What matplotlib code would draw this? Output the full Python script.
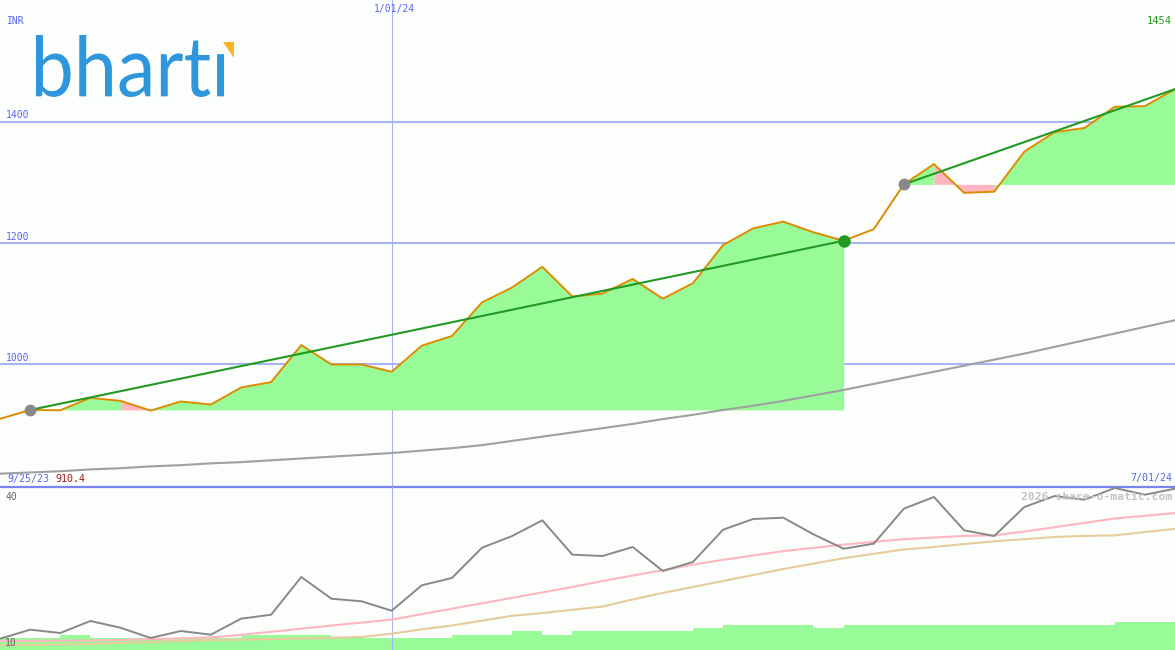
import matplotlib
matplotlib.use("Agg")
import matplotlib.pyplot as plt
from matplotlib.textpath import TextPath
from matplotlib.font_manager import FontProperties
from matplotlib.patches import PathPatch, Polygon
from matplotlib.transforms import Affine2D
from matplotlib.lines import Line2D

# ---------------- data (weekly, index 0 .. 39) ----------------
start_label = "9/25/23"
mid_label = "1/01/24"
end_label = "7/01/24"
mid_index = 13

price = [910.4, 925, 924.5, 945, 940, 924, 939, 934, 962, 971,
         1032, 1000, 1000, 988, 1031, 1047, 1102.5, 1127, 1161, 1112,
         1117, 1141, 1108.5, 1134, 1197, 1224.5, 1235.5, 1218, 1204, 1223,
         1297, 1330.5, 1283, 1285, 1351, 1383, 1390, 1425, 1426, 1454]

long_ma = [820, 822, 824, 827, 829, 832, 834, 837, 839, 842,
           845, 848, 851, 854, 858, 862, 867, 874, 881, 888,
           895, 902, 910, 917, 925, 932, 940, 949, 958, 968,
           978, 988, 998, 1008, 1018, 1029, 1040, 1051, 1062, 1073]

trend_start = [1, 30]
trend_end = [28, 39]

price_grid = [1000, 1200, 1400]

rel = [12.08, 13.74, 13.13, 15.34, 14.10, 12.21, 13.50, 12.82, 15.76, 16.50,
       23.44, 19.44, 18.96, 17.23, 21.91, 23.25, 28.83, 30.98, 33.87, 27.54,
       27.30, 28.96, 24.54, 26.20, 32.14, 34.11, 34.35, 31.29, 28.64, 29.56,
       36.01, 38.16, 32.03, 30.98, 36.32, 38.34, 37.66, 39.82, 38.58, 39.69]

rel_ma_fast = [11.66, 11.70, 11.72, 11.75, 11.85, 12.0, 12.15, 12.3, 12.8, 13.35,
               13.92, 14.5, 15.05, 15.58, 16.6, 17.6, 18.6, 19.6, 20.6, 21.6,
               22.7, 23.7, 24.7, 25.7, 26.6, 27.4, 28.2, 28.8, 29.4, 29.9,
               30.4, 30.7, 31.0, 31.1, 31.8, 32.6, 33.4, 34.2, 34.7, 35.2]

rel_ma_slow = [10.87, 10.95, 11.0, 11.1, 11.3, 11.45, 11.65, 11.84, 11.9, 12.0,
               12.1, 12.25, 12.4, 13.0, 13.8, 14.5, 15.4, 16.3, 16.8, 17.4,
               18.0, 19.3, 20.5, 21.6, 22.7, 23.8, 24.9, 25.9, 26.9, 27.7,
               28.5, 28.96, 29.5, 30.0, 30.4, 30.8, 31.0, 31.1, 31.7, 32.3]

# weekly volume bars (arbitrary units), bar i spans week i .. i+1
volume = [12, 12, 15.3, 12, 12, 12, 12, 12, 15.3, 15.3,
          15.3, 12, 12, 12, 12, 15.3, 15.3, 19, 15.3, 19,
          19, 19, 19, 22, 25.3, 25.3, 25.3, 22.3, 25.3, 25.3,
          25.3, 25.3, 25.3, 25.3, 25.3, 25.3, 25.3, 28, 28]

# ---------------- style ----------------
W, H = 1175, 650
SPLIT = 487
BG = "#fcfefc"
BLUE_TXT = "#5a64f0"
GRID = "#a8b4f4"
SEP = "#7a86f0"
ORANGE = "#dd8c00"
TGREEN = "#229922"
PALEGREEN = "#98fb98"
PINK = "#ffb6c1"
TAN = "#e6cc9c"
MONO = "DejaVu Sans Mono"

fig = plt.figure(figsize=(W / 100, H / 100), dpi=100, facecolor=BG)

ax1 = fig.add_axes([0, (H - SPLIT) / H, 1, SPLIT / H])
ax2 = fig.add_axes([0, 0, 1, (H - SPLIT) / H])
ax2v = ax2.twinx()
for a in (ax1, ax2, ax2v):
    a.set_xlim(0, len(price) - 1)
    a.axis("off")
    a.patch.set_alpha(0)
ax1.set_ylim(798, 1601)
ax2.set_ylim(10, 40)
ax2v.set_ylim(0, H - SPLIT)
ax2.set_zorder(2)
ax2v.set_zorder(1)

# ---------------- top panel ----------------
for g in price_grid:
    ax1.axhline(g, color=GRID, lw=1.5, zorder=1)
ax1.axvline(mid_index, color=GRID, lw=0.8, zorder=1)

x = list(range(len(price)))
for s, e in zip(trend_start, trend_end):
    base = price[s]
    cols = [PALEGREEN if price[i + 1] >= base else PINK for i in range(s, e)]
    i = s
    while i < e:
        c = cols[i - s]
        j = i
        while j < e and cols[j - s] == c:
            j += 1
        ax1.fill_between(x[i:j + 1], price[i:j + 1], base, color=c, lw=0,
                         zorder=2)
        i = j

ax1.plot(x, long_ma, color="#a0a0a0", lw=1.5, zorder=3)
ax1.plot(x, price, color=ORANGE, lw=1.4, zorder=4)
for s, e in zip(trend_start, trend_end):
    ax1.plot([s, e], [price[s], price[e]], color=TGREEN, lw=1.5, zorder=5)
    ax1.plot(s, price[s], "o", ms=8.5, color="#888888", mec="none", zorder=6,
             clip_on=False)
ax1.plot(trend_end[0], price[trend_end[0]], "o", ms=9, color=TGREEN, mec="none",
         zorder=6)

# ---------------- bottom panel ----------------
ax2v.bar([i + 0.5 for i in range(len(volume))], volume, width=1.0,
         color=PALEGREEN, lw=0, zorder=1)
ax2.axvline(mid_index, color=GRID, lw=0.8, zorder=0)
ax2.plot(x, rel_ma_slow, color=TAN, lw=1.5, zorder=2)
ax2.plot(x, rel_ma_fast, color=PINK, lw=1.5, zorder=3)
ax2.plot(x, rel, color="#888888", lw=1.4, zorder=4)

fig.add_artist(Line2D([0, 1], [(H - SPLIT) / H] * 2, color=SEP, lw=1.6,
                      transform=fig.transFigure))

# ---------------- texts ----------------
def px(xp, yp):
    return xp / W, 1 - yp / H

fig.text(*px(7, 21.5), "INR", fontsize=7, family=MONO, color=BLUE_TXT, va="center")
for g in price_grid:
    ygrid = 364.5 - (g - 1000) * 0.6065
    fig.text(*px(6, ygrid - 6.5), str(g), fontsize=7, family=MONO,
             color=BLUE_TXT, va="center")
fig.text(*px(394, 9), mid_label, fontsize=7, family=MONO, color=BLUE_TXT,
         va="center", ha="center")
fig.text(*px(1172, 21), f"{price[-1]:.0f}", fontsize=7.5, family=MONO,
         color="#229922", va="center", ha="right")
fig.text(*px(7, 479), start_label, fontsize=7.2, family=MONO, color=BLUE_TXT,
         va="center")
fig.text(*px(55, 479), f"{price[0]:.1f}", fontsize=7.2, family=MONO,
         color="#a01818", va="center")
fig.text(*px(1172, 478.5), end_label, fontsize=7.2, family=MONO, color=BLUE_TXT,
         va="center", ha="right")
fig.text(*px(5, 496.5), "40", fontsize=7, family=MONO, color="#666666", va="center")
fig.text(*px(5, 642.5), "10", fontsize=7, family=MONO, color="#666666", va="center")
fig.text(*px(1172, 496.5), "2026 share-o-matic.com", fontsize=8.2, family=MONO,
         weight="bold", color="#c4c4c4", va="center", ha="right")

# ---------------- logo ----------------
tp = TextPath((0, 0), "bhart\u0131", size=1, prop=FontProperties(family="Lato"))
ext = tp.get_extents()
x0p, x1p, ytop, ybase = 36, 224, 35, 97
sx = (x1p - x0p) / ext.width
sy = (ybase - ytop) / ext.height
tr = (Affine2D().translate(-ext.x0, -ext.y0).scale(sx / W, sy / H)
      .translate(x0p / W, 1 - ybase / H) + fig.transFigure)
fig.add_artist(PathPatch(tp, transform=tr, color="#2e96dc", lw=0))
tri = [px(222.7, 42.3), px(234, 42.3), px(234, 58.3)]
fig.add_artist(Polygon(tri, closed=True, color="#fbb424", lw=0,
                       transform=fig.transFigure))

fig.savefig("out.png", dpi=100, facecolor=BG)
